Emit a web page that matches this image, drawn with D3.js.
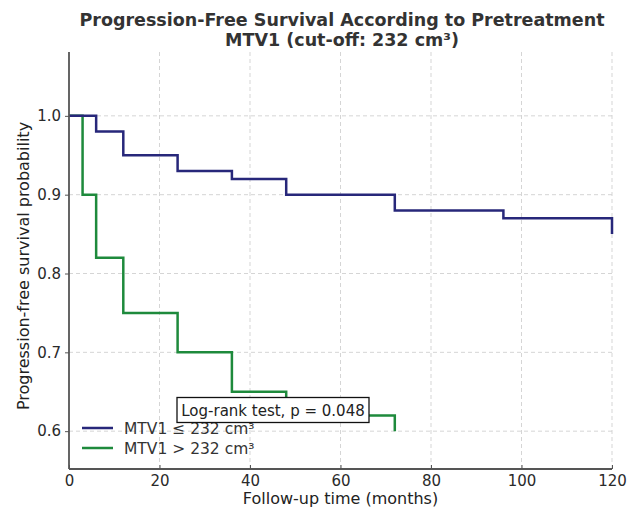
<!DOCTYPE html>
<html>
<head>
<meta charset="utf-8">
<script src="https://cdn.jsdelivr.net/npm/d3@7"></script>
<style>
  body { margin: 0; background: #fff; }
  text { font-family: 'DejaVu Sans', sans-serif; }
</style>
</head>
<body>
<div id="chart"></div>
<script>
// Kaplan-Meier step data
const lowTimes = [0, 6, 12, 24, 36, 48, 72, 96, 120];
const lowSurv = [1.0, 0.98, 0.95, 0.93, 0.92, 0.90, 0.88, 0.87, 0.85];
const highTimes = [0, 3, 6, 12, 24, 36, 48, 72];
const highSurv = [1.0, 0.90, 0.82, 0.75, 0.70, 0.65, 0.62, 0.60];

const xTicks = [0, 20, 40, 60, 80, 100, 120];
const yTicks = [0.6, 0.7, 0.8, 0.9, 1.0];
const seriesNames = ['MTV1 \u2264 232 cm\u00b3', 'MTV1 > 232 cm\u00b3'];
const seriesColors = ['#27277a', '#1e8a3c'];

const W = 641, H = 509;
const margin = { top: 52, left: 69, right: 29, bottom: 40 };
const width = W - margin.left - margin.right;
const height = H - margin.top - margin.bottom;

const svg = d3.select('#chart').append('svg')
  .attr('width', W)
  .attr('height', H);

const x = d3.scaleLinear().domain([0, 120]).range([0, width]);
const y = d3.scaleLinear().domain([0.552, 1.081]).range([height, 0]);

const g = svg.append('g').attr('transform', `translate(${margin.left},${margin.top})`);

// grid
g.append('g')
  .selectAll('line')
  .data(xTicks.slice(1))
  .join('line')
  .attr('x1', (d) => x(d)).attr('x2', (d) => x(d))
  .attr('y1', 0).attr('y2', height)
  .attr('stroke', '#d0d0d0').attr('stroke-width', 0.9)
  .attr('stroke-dasharray', '4,3');

g.append('g')
  .selectAll('line')
  .data(yTicks)
  .join('line')
  .attr('x1', 0).attr('x2', width)
  .attr('y1', (d) => y(d)).attr('y2', (d) => y(d))
  .attr('stroke', '#d0d0d0').attr('stroke-width', 0.9)
  .attr('stroke-dasharray', '4,3');

// survival curves
const line = d3.line()
  .x((d) => x(d[0]))
  .y((d) => y(d[1]))
  .curve(d3.curveStepAfter);

const curves = [
  { times: lowTimes, surv: lowSurv, color: seriesColors[0] },
  { times: highTimes, surv: highSurv, color: seriesColors[1] },
];

// draw green first, blue on top
[curves[1], curves[0]].forEach((c) => {
  const pts = c.times.map((t, i) => [t, c.surv[i]]);
  // the last point is a vertical drop at the final time
  const last = pts[pts.length - 1];
  const prev = pts[pts.length - 2];
  const data = pts.slice(0, -1).concat([[last[0], prev[1]], last]);
  g.append('path')
    .datum(data)
    .attr('fill', 'none')
    .attr('stroke', c.color)
    .attr('stroke-width', 2.5)
    .attr('d', line);
});

// axes
const xAxis = g.append('g')
  .attr('transform', `translate(0,${height})`)
  .call(d3.axisBottom(x).tickValues(xTicks).tickSizeInner(-4).tickSizeOuter(0).tickPadding(6).tickFormat(d3.format('d')));
const yAxis = g.append('g')
  .call(d3.axisLeft(y).tickValues(yTicks).tickSize(4).tickPadding(4).tickFormat(d3.format('.1f')));

[xAxis, yAxis].forEach((a) => {
  a.select('.domain').attr('stroke', '#555').attr('stroke-width', 1.8);
  a.selectAll('.tick line').attr('stroke', '#555').attr('stroke-width', 1);
  a.selectAll('.tick text')
    .attr('fill', '#2a2a2a')
    .style('font-size', '15px')
    .style('font-family', "'DejaVu Sans', sans-serif");
});
// matplotlib spines have no end caps
xAxis.select('.domain').attr('d', `M0,0H${width}`);
yAxis.select('.domain').attr('d', `M0,0V${height}`);

// legend
const legend = g.append('g').attr('transform', `translate(${82 - margin.left},${428 - margin.top})`);
seriesNames.forEach((name, i) => {
  legend.append('line')
    .attr('x1', 0).attr('x2', 31)
    .attr('y1', i * 20).attr('y2', i * 20)
    .attr('stroke', seriesColors[i]).attr('stroke-width', 2.5);
  legend.append('text')
    .attr('x', 42).attr('y', i * 20 + 5.5)
    .attr('fill', '#333')
    .style('font-size', '15.5px')
    .text(name);
});

// log-rank annotation
const note = g.append('g');
note.append('rect')
  .attr('x', 177 - margin.left).attr('y', 397.5 - margin.top)
  .attr('width', 192).attr('height', 25)
  .attr('fill', '#fff').attr('stroke', '#111').attr('stroke-width', 1.3);
note.append('text')
  .attr('x', 273 - margin.left).attr('y', 415.5 - margin.top)
  .attr('text-anchor', 'middle')
  .attr('fill', '#222')
  .style('font-size', '15px')
  .text('Log-rank test, p = 0.048');

// labels
svg.append('text')
  .attr('x', margin.left + width / 2).attr('y', 504)
  .attr('text-anchor', 'middle')
  .attr('fill', '#222')
  .style('font-size', '16px')
  .text('Follow-up time (months)');

svg.append('text')
  .attr('transform', 'translate(29,266) rotate(-90)')
  .attr('text-anchor', 'middle')
  .attr('fill', '#222')
  .style('font-size', '16px')
  .text('Progression-free survival probability');

const title = svg.append('text')
  .attr('text-anchor', 'middle')
  .attr('fill', '#333')
  .style('font-size', '17.5px')
  .style('font-weight', 'bold');
title.append('tspan').attr('x', 342).attr('y', 26).text('Progression-Free Survival According to Pretreatment');
title.append('tspan').attr('x', 342).attr('y', 46).text('MTV1 (cut-off: 232 cm\u00b3)');
</script>
</body>
</html>
